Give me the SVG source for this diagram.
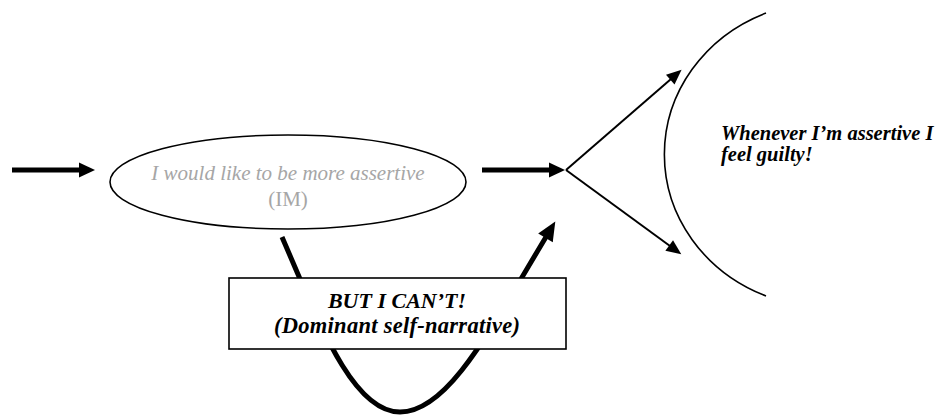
<svg xmlns="http://www.w3.org/2000/svg" width="942" height="418" viewBox="0 0 942 418">
  <defs>
    <style>
      .bg { fill: #ffffff; }
      .thick { fill: none; stroke: #000; stroke-width: 5; }
      .thin { fill: none; stroke: #000; stroke-width: 2; }
      .outline { fill: #ffffff; stroke: #000; stroke-width: 1.6; }
      .arc { fill: none; stroke: #000; stroke-width: 1.6; }
      .gray { font-size: 21px; fill: #a6a6a6; }
      .bi { font-weight: bold; font-style: italic; fill: #000; }
    </style>
    <!-- large solid head for the thick arrows; the shaft stops at the base -->
    <marker id="headThick" markerUnits="userSpaceOnUse" markerWidth="16" markerHeight="16" refX="1" refY="7.5" orient="auto" overflow="visible">
      <path d="M0,0 L16,7.5 L0,15 z" fill="#000"/>
    </marker>
    <marker id="headCurve" markerUnits="userSpaceOnUse" markerWidth="19" markerHeight="17" refX="1" refY="8.5" orient="auto" overflow="visible">
      <path d="M0,0 L19,8.5 L0,17 z" fill="#000"/>
    </marker>
    <!-- smaller head for the two fork lines -->
    <marker id="headThin" markerUnits="userSpaceOnUse" markerWidth="15" markerHeight="13" refX="1" refY="6.5" orient="auto" overflow="visible">
      <path d="M0,0 L15,6.5 L0,13 z" fill="#000"/>
    </marker>
  </defs>

  <rect class="bg" x="0" y="0" width="942" height="418"/>

  <g id="connectors">
    <line class="thick" x1="12" y1="170" x2="80" y2="170" marker-end="url(#headThick)"/>
    <line class="thick" x1="482" y1="170" x2="550" y2="170" marker-end="url(#headThick)"/>
    <line class="thin" x1="566" y1="170" x2="671" y2="79" marker-end="url(#headThin)"/>
    <line class="thin" x1="566" y1="170" x2="670" y2="246" marker-end="url(#headThin)"/>
    <path class="thick" d="M282,237 C318,320 352,412 400,412 C448,412 490,330 546,237" marker-end="url(#headCurve)"/>
  </g>

  <g id="wish" font-family="Liberation Serif, Times New Roman, DejaVu Serif, serif">
    <ellipse class="outline" cx="288" cy="182" rx="178" ry="47"/>
    <text class="gray" x="288" y="180" text-anchor="middle" font-style="italic">I would like to be more assertive</text>
    <text class="gray" x="288" y="206" text-anchor="middle">(IM)</text>
  </g>

  <g id="narrative" font-family="Liberation Serif, Times New Roman, DejaVu Serif, serif">
    <rect class="outline" x="229" y="278" width="337" height="71" stroke-width="2"/>
    <text class="bi" x="397" y="308" font-size="22" text-anchor="middle">BUT I CAN’T!</text>
    <text class="bi" x="397" y="333" font-size="22.5" text-anchor="middle" textLength="246">(Dominant self-narrative)</text>
  </g>

  <g id="guilt" font-family="Liberation Serif, Times New Roman, DejaVu Serif, serif">
    <path class="arc" d="M766,13 A164,153 0 0 0 766,296"/>
    <text class="bi" x="721" y="140" font-size="20.5">Whenever I’m assertive I</text>
    <text class="bi" x="721" y="161" font-size="20.5">feel guilty!</text>
  </g>
</svg>
